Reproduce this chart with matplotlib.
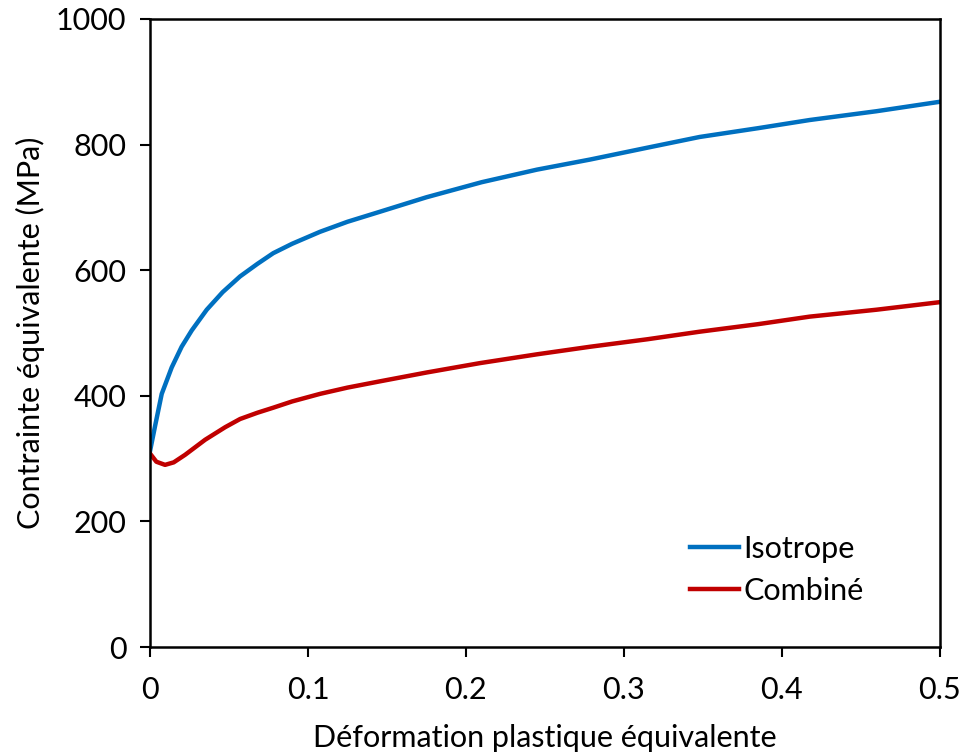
import numpy as np
import matplotlib.pyplot as plt

plt.rcParams['font.family'] = ['Lato', 'DejaVu Sans']

# deformation plastique equivalente / contrainte (MPa)
eps_iso = [0, 0.0032, 0.0074, 0.0137, 0.020, 0.0264, 0.0359, 0.046, 0.057, 0.068,
           0.078, 0.09, 0.1076, 0.125, 0.1456, 0.175, 0.21, 0.245, 0.2785,
           0.315, 0.348, 0.385, 0.4177, 0.46, 0.5]
sig_iso = [312, 352, 403, 445, 478, 504, 537, 565, 590, 610,
           627, 642, 661, 677, 693, 716, 740, 760, 776,
           795, 812, 826, 839, 853, 868]

eps_comb = [0, 0.004, 0.0095, 0.015, 0.0222, 0.0349, 0.0476, 0.057, 0.068, 0.078,
            0.09, 0.1076, 0.125, 0.1456, 0.175, 0.2089, 0.245, 0.2785,
            0.315, 0.348, 0.385, 0.4177, 0.46, 0.5]
sig_comb = [308, 295, 290, 294, 306, 330, 350, 363, 373, 381,
            391, 403, 413, 423, 437, 452, 466, 478,
            490, 502, 514, 526, 537, 549]

fig = plt.figure(figsize=(9.63, 7.55), dpi=100)
ax = fig.add_axes([0.1558, 0.143, 0.82, 0.832])

ax.plot(eps_iso, sig_iso, color='#0070C0', lw=3.2, label='Isotrope')
ax.plot(eps_comb, sig_comb, color='#C00000', lw=3.2, label='Combiné')

ax.set_xlim(0, 0.5)
ax.set_ylim(0, 1000)
ax.set_xticks([0, 0.1, 0.2, 0.3, 0.4, 0.5])
ax.set_xticklabels(['0', '0.1', '0.2', '0.3', '0.4', '0.5'])
ax.set_yticks([0, 200, 400, 600, 800, 1000])
ax.tick_params(labelsize=22, direction='out', length=7, width=1.5)
ax.tick_params(axis='x', pad=14)
ax.tick_params(axis='y', pad=10)
for s in ax.spines.values():
    s.set_linewidth(1.8)

ax.set_xlabel('Déformation plastique équivalente', fontsize=22, labelpad=14)
ax.set_ylabel('Contrainte équivalente (MPa)', fontsize=22, labelpad=8)

ax.legend(loc='upper left', bbox_to_anchor=(0.649, 0.222), frameon=False, fontsize=22,
          handlelength=1.6, handletextpad=0.15, labelspacing=0.45)

fig.savefig('out.png', dpi=100)
